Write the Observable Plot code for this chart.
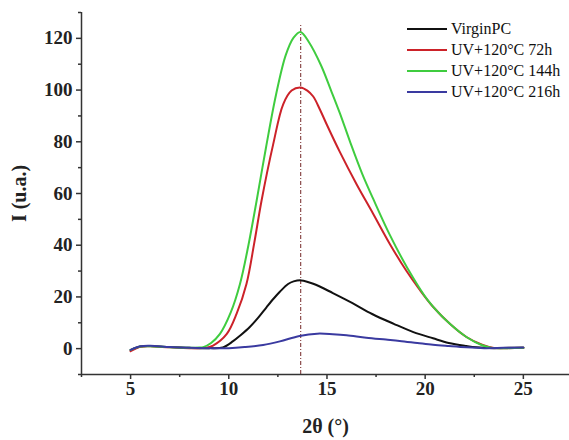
<!DOCTYPE html>
<html><head><meta charset="utf-8">
<script src="https://cdn.jsdelivr.net/npm/d3@7"></script>
<script src="https://cdn.jsdelivr.net/npm/@observablehq/plot@0.6"></script>
<style>
body{margin:0;background:#fff}
#wrap{position:relative;width:569px;height:440px;font-family:"Liberation Serif",serif}
g[aria-label="x-axis label"] text, g[aria-label="y-axis label"] text{font-size:20px}
#legend{position:absolute;left:407px;top:18px;font-size:16px;color:#111;font-family:"Liberation Serif",serif}
.row{display:flex;align-items:center;height:21px;white-space:nowrap}
.sw{width:40px;height:2px;margin-right:4px}
</style></head><body><div id="wrap"></div>
<script>
const seriesNames = ["VirginPC", "UV+120°C 72h", "UV+120°C 144h", "UV+120°C 216h"];
const seriesColors = ["#111111", "#cc2229", "#3fcc3f", "#3a3aa0"];

const xVirgin = [5, 5.5, 6, 7, 8, 9, 9.7, 10.22, 10.6, 11.07, 11.5, 11.92, 12.3, 12.6, 13.02, 13.3, 13.7, 14.3, 15.3, 16.3, 17.3, 18.4, 19.4, 20.4, 21.2, 22.1, 22.6, 23.5, 24.3, 25];
const yVirgin = [-0.6, 0.8, 1.0, 0.6, 0.3, 0.2, 0.5, 2.9, 5.2, 8.4, 12.0, 16.0, 19.5, 22.0, 25.0, 26.0, 26.4, 25.1, 21.5, 17.6, 13.4, 9.6, 6.4, 4.0, 2.2, 1.0, 0.5, 0.2, 0.3, 0.3];

const x72h = [5, 5.5, 6, 7, 8, 8.8, 9.2, 9.9, 10.4, 10.9, 11.3, 11.67, 12.26, 12.77, 13.2, 13.65, 14.0, 14.3, 14.64, 15.0, 15.66, 16.5, 17.35, 18.2, 19.05, 19.7, 20.4, 21.3, 22.1, 22.9, 23.5, 24.2, 25];
const y72h = [-1.0, 0.7, 0.9, 0.5, 0.2, 0.3, 1.2, 5.7, 13.5, 25.0, 41.0, 57.3, 79.0, 94.5, 99.8, 101.0, 99.8, 97.5, 92.5, 86.5, 76.0, 63.7, 52.2, 40.5, 30.0, 23.0, 16.2, 9.3, 4.5, 1.5, 0.3, 0.2, 0.3];

const x144h = [5, 5.5, 6, 7, 8, 8.5, 8.7, 9.1, 9.55, 10.1, 10.57, 11.0, 11.42, 11.9, 12.4, 12.9, 13.3, 13.65, 14.1, 14.7, 15.2, 15.66, 16.2, 16.8, 17.35, 18.2, 19.05, 20.15, 21.3, 22.1, 22.9, 23.4, 24.2, 25];
const y144h = [-0.5, 0.8, 0.9, 0.5, 0.3, 0.4, 0.6, 2.2, 5.7, 14.0, 25.0, 40.0, 57.3, 78.0, 98.0, 113.5, 120.3, 122.5, 118.3, 109.5, 100.0, 91.0, 79.5, 67.5, 58.0, 44.0, 31.8, 18.6, 9.3, 4.5, 1.3, 0.3, 0.2, 0.3];

const x216h = [5, 5.5, 6, 7, 8, 9, 10, 10.8, 11.75, 12.6, 13.6, 14.5, 15.3, 16.0, 17.0, 18.0, 18.7, 19.6, 20.4, 21.2, 22.1, 23, 24, 25];
const y216h = [-0.5, 0.9, 1.1, 0.6, 0.3, 0.2, 0.2, 0.6, 1.4, 2.8, 4.9, 5.8, 5.6, 5.2, 4.2, 3.5, 3.0, 2.2, 1.5, 1.0, 0.5, 0.2, 0.3, 0.4];

const peakPosition = 13.66;
const xTicks = [5, 10, 15, 20, 25];
const xMinorTicks = [2.5, 7.5, 12.5, 17.5, 22.5];
const yTicks = [0, 20, 40, 60, 80, 100, 120];
const yMinorTicks = [-10, 10, 30, 50, 70, 90, 110, 130];

const xs = [xVirgin, x72h, x144h, x216h];
const ys = [yVirgin, y72h, y144h, y216h];
const rows = [];
xs.forEach((xa, i) => xa.forEach((x, j) => rows.push({series: seriesNames[i], x, y: ys[i][j]})));

const axisColor = "#333";
const chart = Plot.plot({
  width: 569, height: 440,
  marginLeft: 81, marginRight: 0, marginTop: 12, marginBottom: 66,
  style: {fontFamily: "Liberation Serif, serif", fontWeight: "bold", color: "#222", background: "#fff"},
  x: {domain: [2.5, 27.35]},
  y: {domain: [-10, 130]},
  color: {domain: seriesNames, range: seriesColors},
  marks: [
    Plot.ruleX([peakPosition], {y1: -10, y2: 125, stroke: "#8c4a4a", strokeWidth: 1.2, strokeDasharray: "4,2,1,2"}),
    Plot.line(rows, {x: "x", y: "y", z: "series", stroke: "series", strokeWidth: 2, curve: "catmull-rom"}),
    Plot.axisX(xTicks, {tickSize: 5, tickPadding: 2, fontSize: 19, stroke: axisColor, strokeWidth: 1.5, label: "2θ (°)", labelAnchor: "center", labelArrow: "none", labelOffset: 58}),
    Plot.axisX(xMinorTicks, {tickSize: 3, tickFormat: () => "", stroke: axisColor, strokeWidth: 1.5, label: null}),
    Plot.axisY(yTicks, {tickSize: 5, tickPadding: 4, fontSize: 19, stroke: axisColor, strokeWidth: 1.5, label: "I (u.a.)", labelAnchor: "center", labelArrow: "none", labelOffset: 70}),
    Plot.axisY(yMinorTicks, {tickSize: 3, tickFormat: () => "", stroke: axisColor, strokeWidth: 1.5, label: null}),
    Plot.ruleX([2.5], {stroke: axisColor, strokeWidth: 1.5}),
    Plot.ruleY([-10], {stroke: axisColor, strokeWidth: 1.5})
  ]
});
const wrap = document.getElementById("wrap");
wrap.appendChild(chart);
const legend = document.createElement("div");
legend.id = "legend";
seriesNames.forEach((n, i) => {
  const r = document.createElement("div");
  r.className = "row";
  const s = document.createElement("span");
  s.className = "sw";
  s.style.background = seriesColors[i];
  const t = document.createElement("span");
  t.textContent = n;
  r.appendChild(s); r.appendChild(t);
  legend.appendChild(r);
});
wrap.appendChild(legend);
</script>
</body></html>
